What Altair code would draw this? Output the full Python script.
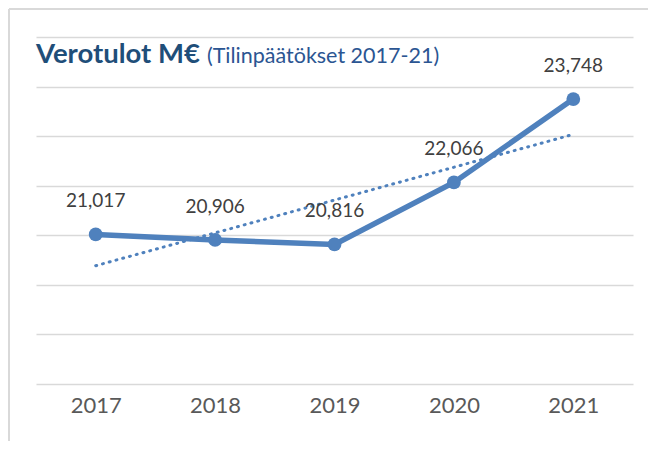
import altair as alt
import pandas as pd

years = [2017, 2018, 2019, 2020, 2021]
values = [21017, 20906, 20816, 22066, 23748]
title_main = "Verotulot M€"
title_sub = "(Tilinpäätökset 2017-21)"
grid_values = [18000, 19000, 20000, 21000, 22000, 23000, 24000, 25000]

df = pd.DataFrame({"year": years, "value": values})
blue = "#4F81BD"
font = "Lato"

x = alt.X("year:Q", scale=alt.Scale(domain=[2016.5, 2021.5], nice=False, zero=False),
          axis=alt.Axis(values=years, format="d", grid=False, domain=False, ticks=False,
                        labelFontSize=22, labelColor="#595959", labelFont=font,
                        labelPadding=11, title=None))
y = alt.Y("value:Q", scale=alt.Scale(domain=[18000, 25000], nice=False, zero=False),
          axis=alt.Axis(values=grid_values, labels=False, ticks=False, domain=False,
                        grid=True, gridColor="#d9d9d9", gridWidth=1.5, title=None))

base = alt.Chart(df)

trend = base.transform_regression("year", "value", method="linear").mark_line(
    color=blue, strokeWidth=3, strokeDash=[1, 6], strokeCap="round"
).encode(x=x, y=y)

line = base.mark_line(color=blue, strokeWidth=5.5).encode(x=x, y=y)
pts = base.mark_circle(color=blue, size=190, opacity=1).encode(x=x, y=y)
labels = base.mark_text(dy=-33, fontSize=19, color="#404040", font=font, baseline="middle").encode(
    x=x, y=y, text=alt.Text("value:Q", format=",")
)

tdf = pd.DataFrame({"a": [0]})
t1 = alt.Chart(tdf).mark_text(align="left", baseline="middle", fontSize=27.5, fontWeight="bold",
                              color="#1F4E79", font=font).encode(
    x=alt.value(0), y=alt.value(18), text=alt.value(title_main))
t2 = alt.Chart(tdf).mark_text(align="left", baseline="middle", fontSize=21.5,
                              color="#2B5592", font=font).encode(
    x=alt.value(171), y=alt.value(20), text=alt.value(title_sub))

border_left = alt.Chart(tdf).mark_rule(color="#d9d9d9", strokeWidth=2).encode(
    x=alt.value(-27), y=alt.value(-28), y2=alt.value(420))
border_top = alt.Chart(tdf).mark_rule(color="#d9d9d9", strokeWidth=2).encode(
    x=alt.value(-27), x2=alt.value(640), y=alt.value(-28))

chart = alt.layer(border_left, border_top, trend, line, pts, labels, t1, t2).properties(
    width=597, height=347,
    autosize=alt.AutoSizeParams(type="none"),
    padding={"left": 28, "top": 29, "right": 15, "bottom": 57},
).configure_view(stroke=None)

chart.save("out.html", embed_options={"renderer": "svg", "actions": False})
